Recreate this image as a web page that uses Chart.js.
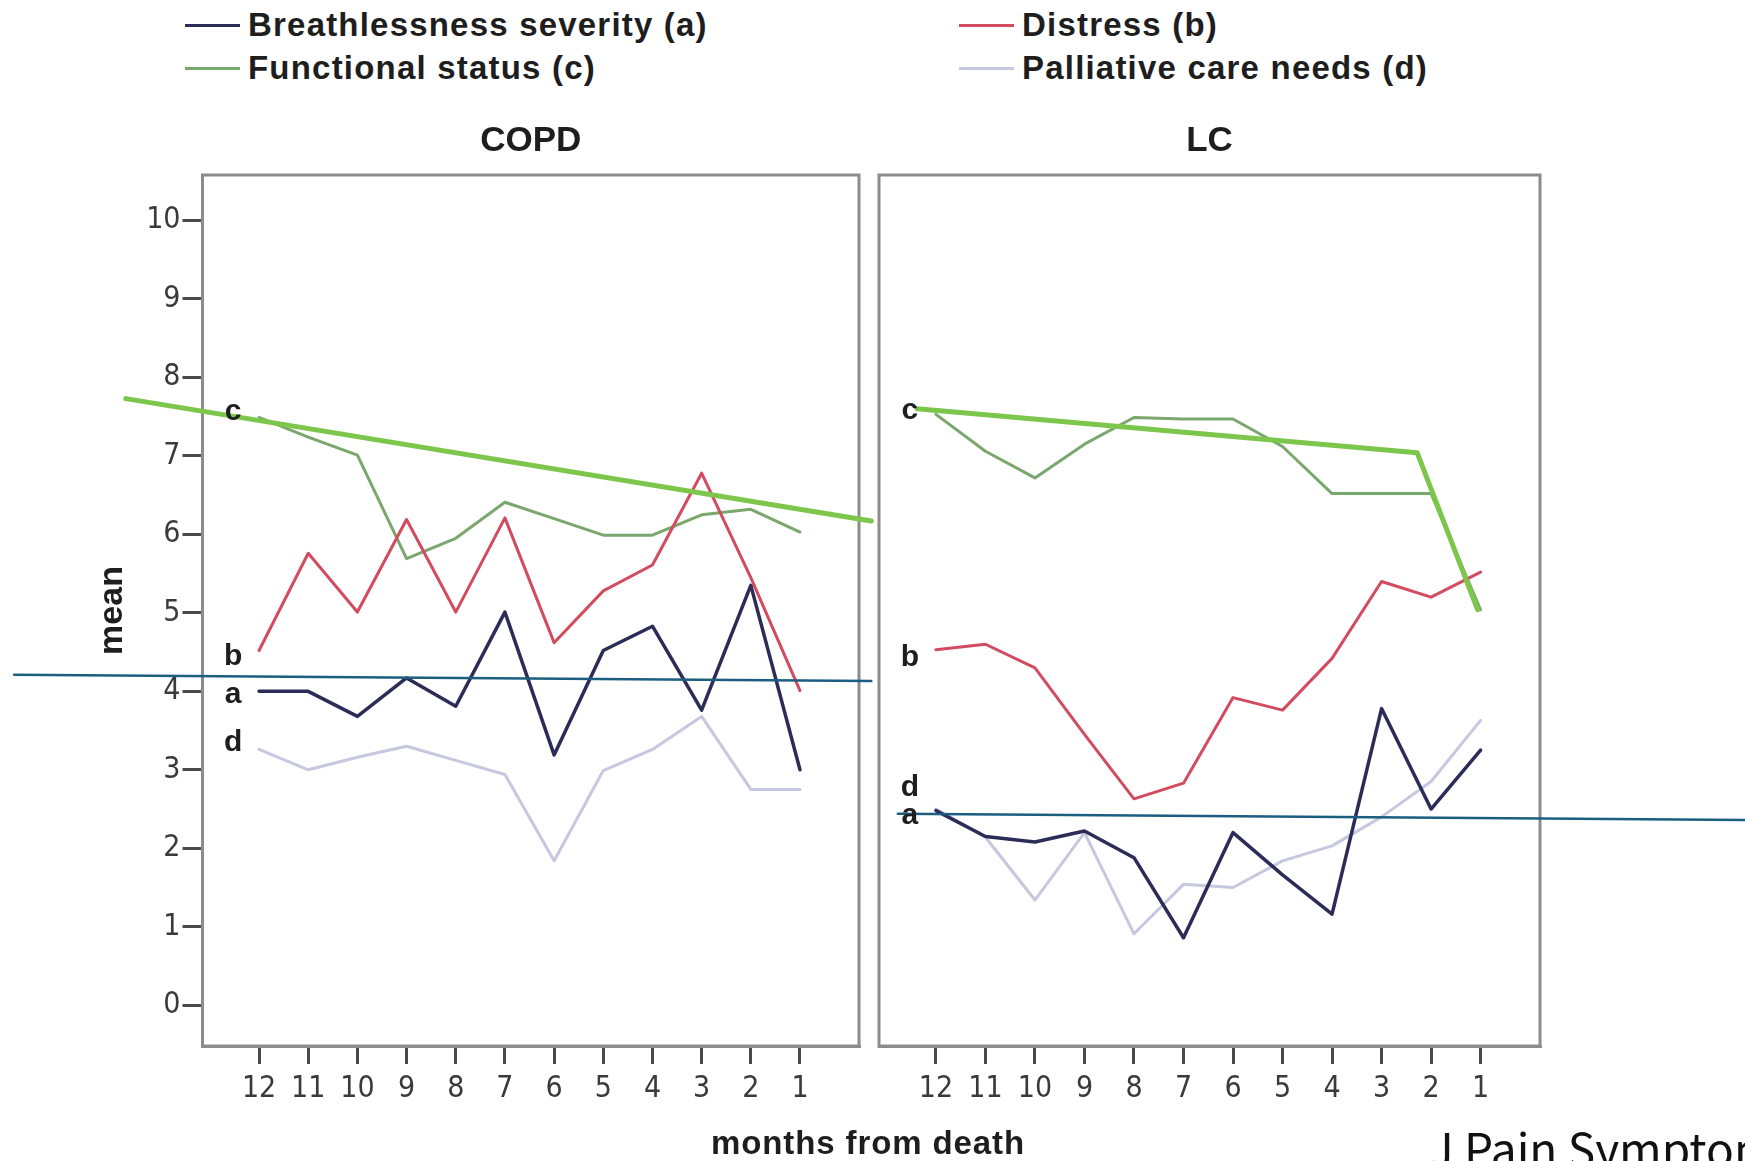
<!DOCTYPE html>
<html>
<head>
<meta charset="utf-8">
<script src="https://cdn.jsdelivr.net/npm/chart.js@4.4.1/dist/chart.umd.min.js"></script>
<style>
  html, body { margin: 0; padding: 0; background: #fff; }
  body { width: 1745px; height: 1161px; position: relative; overflow: hidden; font-family: "Liberation Sans", Arial, sans-serif; color: #1e1e1e; }
  .panel { position: absolute; top: 0; }
  .leg { position: absolute; display: flex; align-items: center; font-weight: bold; font-size: 33px; letter-spacing: 1.2px; line-height: 40px; white-space: nowrap; }
  .leg i { display: inline-block; width: 55px; height: 3px; margin-right: 8px; }
  #xTitle { position: absolute; left: 0; width: 1736px; top: 1123px; text-align: center; font-weight: bold; font-size: 33px; letter-spacing: 0.9px; line-height: 40px; }
  #cite { position: absolute; left: 1429px; top: 1124px; font-family: "Noto Sans CJK KR", "Noto Sans", sans-serif; font-size: 46px; line-height: 46px; white-space: nowrap; color: #111; }
</style>
</head>
<body>
<div class="leg" style="left:185px;top:5px"><i style="background:#2b2c58"></i>Breathlessness severity (a)</div>
<div class="leg" style="left:185px;top:48px"><i style="background:#7aa86c"></i>Functional status (c)</div>
<div class="leg" style="left:959px;top:5px"><i style="background:#d24b5f"></i>Distress (b)</div>
<div class="leg" style="left:959px;top:48px"><i style="background:#c5c8de"></i>Palliative care needs (d)</div>

<div class="panel" style="left:0px"><canvas id="copdChart" width="880" height="1161"></canvas></div>
<div class="panel" style="left:860px"><canvas id="lcChart" width="885" height="1161"></canvas></div>

<div id="xTitle">months from death</div>
<div id="cite">J Pain Symptom Manage</div>

<script>
// months before death, shown right to left 12 -> 1
var months = [12, 11, 10, 9, 8, 7, 6, 5, 4, 3, 2, 1];
var meanTicks = [0, 1, 2, 3, 4, 5, 6, 7, 8, 9, 10];

// COPD means
var copdBreathless = [4.0, 4.0, 3.68, 4.17, 3.81, 5.01, 3.19, 4.52, 4.83, 3.76, 5.35, 3.0];
var copdDistress   = [4.52, 5.76, 5.01, 6.19, 5.01, 6.21, 4.62, 5.28, 5.61, 6.78, 5.45, 4.01];
var copdFunctional = [7.49, 7.24, 7.01, 5.69, 5.95, 6.41, 6.2, 5.99, 5.99, 6.25, 6.32, 6.03];
var copdPalliative = [3.26, 3.0, 3.16, 3.3, 3.12, 2.94, 1.84, 2.99, 3.26, 3.68, 2.75, 2.75];

// LC means
var lcBreathless = [2.48, 2.15, 2.08, 2.22, 1.88, 0.86, 2.2, 1.66, 1.16, 3.78, 2.5, 3.25];
var lcDistress   = [4.53, 4.6, 4.3, 3.45, 2.63, 2.83, 3.92, 3.76, 4.42, 5.4, 5.2, 5.52];
var lcFunctional = [7.53, 7.06, 6.72, 7.15, 7.49, 7.47, 7.47, 7.12, 6.52, 6.52, 6.52, 5.04];
var lcPalliative = [2.5, 2.14, 1.34, 2.2, 0.91, 1.54, 1.5, 1.84, 2.03, 2.4, 2.85, 3.63];

// hand drawn trend lines on top of the figure (month, mean)
var copdTrendGreen = [[14.71, 7.73], [-0.45, 6.17]];
var copdTrendBlue  = [[16.98, 4.21], [-0.45, 4.13]];
var lcTrendGreen   = [[12.38, 7.60], [2.28, 7.04], [1.06, 5.04]];
var lcTrendBlue    = [[12.77, 2.44], [-4.36, 2.36]];

var colA = "#2b2c58";
var colB = "#d24b5f";
var colC = "#7aa86c";
var colD = "#c5c8de";
var trendGreen = "#7dc64c";
var trendBlue = "#1c5d80";
var boxGray = "#8c8c8c";
var narrowFont = "'Liberation Sans Narrow', 'DejaVu Sans Condensed', 'Liberation Sans', sans-serif";

function toPoints(values){
    return values.map(function(v, i){ return {x: months[i], y: v}; });
}

function trendSet(pairs, color, width){
    return {
        data: pairs.map(function(p){ return {x: p[0], y: p[1]}; }),
        borderColor: color,
        borderWidth: width,
        clip: false
    };
}

function seriesSet(values, color, width, tag, nudge){
    return {
        data: toPoints(values),
        borderColor: color,
        borderWidth: width,
        tag: tag,
        tagNudge: nudge
    };
}

// box round the plot area
var panelBox = {
    id: "panelBox",
    beforeDatasetsDraw: function(chart){
        var a = chart.chartArea, ctx = chart.ctx;
        ctx.save();
        ctx.strokeStyle = boxGray;
        ctx.lineWidth = 3;
        ctx.strokeRect(a.left, a.top, a.right - a.left, a.bottom - a.top);
        ctx.restore();
    }
};

// panel heading + a/b/c/d tags at the first point of each series
var panelText = {
    id: "panelText",
    afterDatasetsDraw: function(chart, args, opts){
        var a = chart.chartArea, ctx = chart.ctx;
        ctx.save();
        ctx.fillStyle = "#1e1e1e";
        ctx.textAlign = "center";
        ctx.textBaseline = "middle";
        ctx.font = "bold 35px 'Liberation Sans', Arial, sans-serif";
        ctx.fillText(opts.title, (a.left + a.right) / 2, a.top - 34);
        ctx.font = "bold 30px 'Liberation Sans', Arial, sans-serif";
        chart.data.datasets.forEach(function(ds, i){
            if(!ds.tag) return;
            var pt = chart.getDatasetMeta(i).data[0];
            ctx.fillText(ds.tag, pt.x - 26, pt.y + ds.tagNudge);
        });
        ctx.restore();
    }
};

function CreatePanel(canvasId, title, datasets, showY, padding){
    var yScale = {
        type: "linear",
        display: showY,
        min: -0.52,
        max: 10.58,
        afterBuildTicks: function(s){ s.ticks = meanTicks.map(function(v){ return {value: v}; }); },
        afterFit: function(s){ if(showY){ s.width = 110; } },
        ticks: { font: { family: narrowFont, size: 30 }, color: "#3a3a3a", padding: 2 },
        grid: { drawOnChartArea: false, tickLength: 20, color: "#4a4a4a", lineWidth: 3 },
        border: { display: true, color: boxGray, width: 3 },
        title: { display: true, text: "mean", font: { size: 34, weight: "bold", family: "'Liberation Sans', Arial, sans-serif" }, color: "#1e1e1e", padding: 0 }
    };
    return new Chart(document.getElementById(canvasId), {
        type: "line",
        data: { datasets: datasets },
        plugins: [panelBox, panelText],
        options: {
            responsive: false,
            animation: false,
            layout: { padding: padding },
            elements: { point: { radius: 0 }, line: { tension: 0, borderCapStyle: "round", borderJoinStyle: "round" } },
            plugins: { legend: { display: false }, tooltip: { enabled: false }, panelText: { title: title } },
            scales: {
                x: {
                    type: "linear",
                    reverse: true,
                    min: -0.2,
                    max: 13.15,
                    afterBuildTicks: function(s){ s.ticks = months.map(function(v){ return {value: v}; }); },
                    afterFit: function(s){ s.height = 70; },
                    ticks: { font: { family: narrowFont, size: 30 }, color: "#3a3a3a", padding: 7, maxRotation: 0 },
                    grid: { drawOnChartArea: false, tickLength: 18, color: "#4a4a4a", lineWidth: 3 },
                    border: { display: true, color: boxGray, width: 3 }
                },
                y: yScale
            }
        }
    });
}

CreatePanel("copdChart", "COPD", [
    trendSet(copdTrendGreen, trendGreen, 5),
    trendSet(copdTrendBlue, trendBlue, 2.5),
    seriesSet(copdBreathless, colA, 3.5, "a", 3),
    seriesSet(copdDistress, colB, 3, "b", 6),
    seriesSet(copdFunctional, colC, 3, "c", -6),
    seriesSet(copdPalliative, colD, 3, "d", -7)
], true, { left: 92.5, top: 175, right: 21, bottom: 45 });

CreatePanel("lcChart", "LC", [
    trendSet(lcTrendGreen, trendGreen, 5),
    trendSet(lcTrendBlue, trendBlue, 2.5),
    seriesSet(lcBreathless, colA, 3.5, "a", 5),
    seriesSet(lcDistress, colB, 3, "b", 8),
    seriesSet(lcFunctional, colC, 3, "c", -4),
    seriesSet(lcPalliative, colD, 3, "d", -21)
], false, { left: 19, top: 175, right: 205, bottom: 45 });
</script>
</body>
</html>
